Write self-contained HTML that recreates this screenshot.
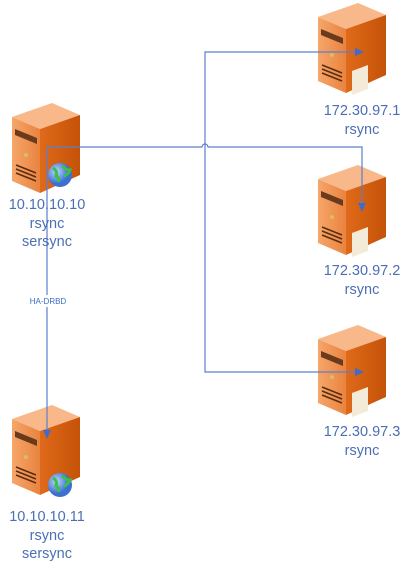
<!DOCTYPE html>
<html><head><style>
body{margin:0;background:#fff;width:410px;height:572px;overflow:hidden;font-family:"Liberation Sans",sans-serif}
.t{position:absolute;color:#4a6fb5;font-size:14.5px;text-align:center;width:120px;line-height:18.5px}
</style></head><body>
<svg width="410" height="572" style="position:absolute;left:0;top:0">
<defs>
<linearGradient id="fr" x1="0" x2="1"><stop offset="0" stop-color="#f6a66a"/><stop offset="1" stop-color="#e9833f"/></linearGradient>
<linearGradient id="sd" x1="0" x2="1"><stop offset="0" stop-color="#e06a1a"/><stop offset="1" stop-color="#c45208"/></linearGradient>
<radialGradient id="gl" cx="0.35" cy="0.35"><stop offset="0" stop-color="#bcd8ff"/><stop offset="1" stop-color="#3d6fd0"/></radialGradient>
</defs>
<g transform="translate(12,103)">
<polygon points="0,14 40,0 68,12 28,26" fill="#f8b88a"/>
<polygon points="0,14 28,26 28,90 0,78" fill="url(#fr)"/>
<polygon points="28,26 68,12 68,72 28,90" fill="url(#sd)"/>
<polygon points="3,26 25,35 25,41 3,32" fill="#6a3a1c"/>
<circle cx="14" cy="52" r="2" fill="#d8c060"/>
<path d="M4 62 L24 70 M4 66 L24 74 M4 70 L24 78" stroke="#5a2c10" stroke-width="1.5"/>
</g>
<g transform="translate(318,3)">
<polygon points="0,14 40,0 68,12 28,26" fill="#f8b88a"/>
<polygon points="0,14 28,26 28,90 0,78" fill="url(#fr)"/>
<polygon points="28,26 68,12 68,72 28,90" fill="url(#sd)"/>
<polygon points="3,26 25,35 25,41 3,32" fill="#6a3a1c"/>
<circle cx="14" cy="52" r="2" fill="#d8c060"/>
<path d="M4 62 L24 70 M4 66 L24 74 M4 70 L24 78" stroke="#5a2c10" stroke-width="1.5"/>
<polygon points="34,68 50,62 50,86 34,92" fill="#f3ead8"/>
</g>
<g transform="translate(318,165)">
<polygon points="0,14 40,0 68,12 28,26" fill="#f8b88a"/>
<polygon points="0,14 28,26 28,90 0,78" fill="url(#fr)"/>
<polygon points="28,26 68,12 68,72 28,90" fill="url(#sd)"/>
<polygon points="3,26 25,35 25,41 3,32" fill="#6a3a1c"/>
<circle cx="14" cy="52" r="2" fill="#d8c060"/>
<path d="M4 62 L24 70 M4 66 L24 74 M4 70 L24 78" stroke="#5a2c10" stroke-width="1.5"/>
<polygon points="34,68 50,62 50,86 34,92" fill="#f3ead8"/>
</g>
<g transform="translate(318,325)">
<polygon points="0,14 40,0 68,12 28,26" fill="#f8b88a"/>
<polygon points="0,14 28,26 28,90 0,78" fill="url(#fr)"/>
<polygon points="28,26 68,12 68,72 28,90" fill="url(#sd)"/>
<polygon points="3,26 25,35 25,41 3,32" fill="#6a3a1c"/>
<circle cx="14" cy="52" r="2" fill="#d8c060"/>
<path d="M4 62 L24 70 M4 66 L24 74 M4 70 L24 78" stroke="#5a2c10" stroke-width="1.5"/>
<polygon points="34,68 50,62 50,86 34,92" fill="#f3ead8"/>
</g>
<g transform="translate(12,405)">
<polygon points="0,14 40,0 68,12 28,26" fill="#f8b88a"/>
<polygon points="0,14 28,26 28,90 0,78" fill="url(#fr)"/>
<polygon points="28,26 68,12 68,72 28,90" fill="url(#sd)"/>
<polygon points="3,26 25,35 25,41 3,32" fill="#6a3a1c"/>
<circle cx="14" cy="52" r="2" fill="#d8c060"/>
<path d="M4 62 L24 70 M4 66 L24 74 M4 70 L24 78" stroke="#5a2c10" stroke-width="1.5"/>
</g>
<circle cx="60" cy="175" r="12" fill="url(#gl)"/><path d="M53 168 q5 3 3 8 q4 2 2 6 M62 166 q4 4 8 4 q-2 5 -6 6" stroke="#3cc04a" stroke-width="3" fill="none"/>
<circle cx="60" cy="485" r="12" fill="url(#gl)"/><path d="M53 478 q5 3 3 8 q4 2 2 6 M62 476 q4 4 8 4 q-2 5 -6 6" stroke="#3cc04a" stroke-width="3" fill="none"/>
<g stroke="#5b7fce" stroke-width="1.2" fill="none">
<path d="M47 147 H202 A3 3 0 0 1 208 147 H362 V205"/>
<path d="M47 147 V432"/>
<path d="M358 52 H205 V372 H358"/>
</g>
<g fill="#3f6cc9">
<polygon points="362,212 358,203 366,203"/>
<polygon points="47,439 43,430 51,430"/>
<polygon points="364,52 355,48 355,56"/>
<polygon points="364,372 355,368 355,376"/>
</g>
<rect x="27" y="295" width="42" height="12" fill="#fff"/>
<text x="48" y="304" font-size="8" fill="#3f6cc9" text-anchor="middle" font-family="Liberation Sans,sans-serif">HA-DRBD</text>
</svg>
<div class="t" style="left:-13px;top:196px">10.10.10.10<br>rsync<br>sersync</div>
<div class="t" style="left:-13px;top:508px">10.10.10.11<br>rsync<br>sersync</div>
<div class="t" style="left:302px;top:102px">172.30.97.1<br>rsync</div>
<div class="t" style="left:302px;top:262px">172.30.97.2<br>rsync</div>
<div class="t" style="left:302px;top:423px">172.30.97.3<br>rsync</div>
</body></html>
